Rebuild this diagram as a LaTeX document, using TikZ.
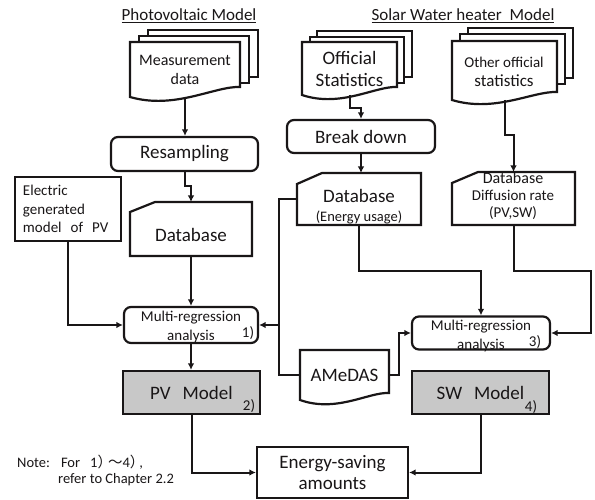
\documentclass[tikz,border=0pt]{standalone}
\usepackage{fontspec}
\setmainfont{Carlito}
\newfontfamily\cjk{Noto Sans CJK JP}
\usetikzlibrary{calc,arrows.meta,backgrounds}
\definecolor{boxgray}{RGB}{200,200,200}
\definecolor{ink}{RGB}{25,22,23}
\newcommand\fsz[2]{\fontsize{#1pt}{#2pt}\selectfont}
\newcommand\docfront[2]{\draw[shp] (#1.north west) -- (#1.north east) -- ($(#1.south east)+(0,-#2)$) .. controls ($(#1.south west)!0.77!(#1.south east)+(0,-#2-1)$) and ($(#1.south west)!0.41!(#1.south east)+(0,13)$) .. (#1.south west) -- cycle;}
\newcommand\cardshape[3]{\draw[shp] ($(#1.north west)+(0,#3)$) -- ($(#1.north west)+(#2,0)$) -- (#1.north east) -- (#1.south east) -- (#1.south west) -- cycle;}
\begin{document}
\begin{tikzpicture}[x=1pt,y=-1pt, line join=miter,
  every node/.style={inner sep=0pt, text=ink},
  shp/.style={draw=ink, line width=2.2pt, fill=white},
  conn/.style={draw=ink, line width=2pt},
  arr/.style={conn, -{Latex[length=6.5pt,width=6.5pt]}},
  ghost/.style={draw=none, inner sep=0pt, outer sep=0pt},
  rbox/.style={shp, rounded corners=7pt, inner sep=0pt},
  gbox/.style={shp, fill=boxgray, inner sep=0pt}]
\useasboundingbox (0,0) rectangle (595,500);

% titles
\node[font=\fsz{17}{20}] (t1) at (189,16) {\underline{Photovoltaic Model}};
\node[font=\fsz{17}{20}] (t2) at (463,16) {\underline{Solar Water heater\hspace{8pt}Model}};

% left column
\node[ghost, minimum width=110pt, minimum height=55pt, align=center, font=\fsz{16}{19}] (meas) at (185,69.5) {Measurement\\data};
\node[rbox, minimum width=147pt, minimum height=34pt, font=\fsz{19}{22}] (resamp) at (184.5,154) {Resampling};
\node[ghost, minimum width=122pt, minimum height=54pt] (dbpv) at (191,229) {};
\node[font=\fsz{19}{22}] (dbpvt) at (191,235) {Database};
\node[shp, minimum height=64pt, text width=90pt, inner xsep=8pt, inner ysep=0pt, align=left, font=\fsz{15}{18.5}] (elec) at (68,209) {Electric\\generated\\model\hspace{9pt}of\hspace{9pt}PV};
\node[rbox, minimum width=134pt, minimum height=36pt] (mr1) at (191,325) {};
\node[align=center, font=\fsz{15}{19}] (mr1t) at (191,327.5) {Multi-regression\\analysis};
\node[font=\fsz{15}{18}] (mr1n) at (248,333) {1)};
\node[gbox, minimum width=137pt, minimum height=43pt, font=\fsz{19}{22}] (pv) at (191.5,392.5) {PV\hspace{12pt}Model};
\node[font=\fsz{15}{18}] (pvn) at (249,406) {2)};

% middle column
\node[ghost, minimum width=95pt, minimum height=53pt, align=center, font=\fsz{19}{22}] (offstat) at (349.5,68.5) {Official\\Statistics};
\node[rbox, minimum width=148pt, minimum height=33pt, font=\fsz{19}{22}] (brk) at (361,136.5) {Break down};
\node[ghost, minimum width=124pt, minimum height=52pt] (dben) at (359,199) {};
\node[font=\fsz{19}{22}] (dbent1) at (359,196) {Database};
\node[font=\fsz{14.5}{18}] (dbent2) at (359,217) {(Energy usage)};
\node[ghost, minimum width=89pt, minimum height=50pt, font=\fsz{19}{22}] (amedas) at (344.5,375) {AMeDAS};
\node[shp, minimum width=151pt, minimum height=51pt, align=center, font=\fsz{19}{21}] (energy) at (332.5,472.5) {Energy-saving\\amounts};

% right column
\node[ghost, minimum width=105pt, minimum height=59pt] (othstat) at (504.5,70.5) {};
\node[font=\fsz{15}{18}] (otht1) at (504,62) {Other official};
\node[font=\fsz{17}{20}] (otht2) at (504,81) {statistics};
\node[ghost, minimum width=123pt, minimum height=53pt] (dbdiff) at (513.5,198.5) {};
\node[font=\fsz{16}{19}] (dbdt1) at (513,178) {Database};
\node[font=\fsz{15}{18}] (dbdt2) at (513,195) {Diffusion rate};
\node[font=\fsz{15}{18}] (dbdt3) at (513,213) {(PV,SW)};
\node[rbox, minimum width=138pt, minimum height=33pt] (mr3) at (481,333) {};
\node[align=center, font=\fsz{15}{19}] (mr3t) at (481,335.5) {Multi-regression\\analysis};
\node[font=\fsz{15}{18}] (mr3n) at (535,342) {3)};
\node[gbox, minimum width=137pt, minimum height=43pt, font=\fsz{19}{22}] (sw) at (480.5,392.5) {SW\hspace{12pt}Model};
\node[font=\fsz{15}{18}] (swn) at (531,407) {4)};

% note
\node[anchor=west, font=\fsz{14.5}{18}] (note1) at (17,462) {Note:\hspace{11pt}For\hspace{10pt}1{\cjk ）}\kern-4pt{\cjk ～}4{\cjk ）}\kern-5pt,};
\node[anchor=west, font=\fsz{14.5}{18}] (note2) at (58,480) {refer to Chapter 2.2};

% shapes behind text
\begin{pgfonlayer}{background}
\draw[shp] (148,30) rectangle (258,77);
\draw[shp] (139,36) rectangle (249,83);
\docfront{meas}{10}
\draw[shp] (317,31) rectangle (412,77);
\draw[shp] (310,37) rectangle (404,83);
\docfront{offstat}{8}
\draw[shp] (468,28) rectangle (573,78);
\draw[shp] (460,34) rectangle (565,84);
\docfront{othstat}{8}
\docfront{amedas}{7}
\cardshape{dbpv}{25}{10}
\cardshape{dben}{25}{11}
\cardshape{dbdiff}{26}{11}
\end{pgfonlayer}

% connectors
\draw[arr] (meas.south) -- (meas.south |- resamp.north);
\draw[arr] (resamp.south) -- ++(0,14) -| (dbpv.north);
\draw[arr] (dbpv.south) -- (mr1.north);
\draw[arr] (elec.south) |- (mr1.west);
\draw[arr] (mr1.south) -- (mr1.south |- pv.north);
\draw[arr] (pv.south) |- (energy.west);
\draw[arr] (sw.south) |- (energy.east);
\draw[arr] (offstat.south) -- ++(0,13) -| (brk.north);
\draw[arr] (brk.south) -- (brk.south |- dben.north);
\draw[arr] (othstat.south) -- ++(0,35) -| (dbdiff.north);
\draw[arr] (dben.south) -- ++(0,46) -| (mr3.north);
\coordinate (rc) at (591,0);
\draw[arr] (dbdiff.south) -- ++(0,46) -| (rc |- mr3.east) -- (mr3.east);
\coordinate (jn) at ($(mr1.east)+(20,0)$);
\draw[conn] (dben.west) -| (jn) |- (amedas.west);
\draw[arr] (jn) -- (mr1.east);
\draw[arr] (amedas.east) -- ++(10,0) |- (mr3.west);
\end{tikzpicture}
\end{document}
